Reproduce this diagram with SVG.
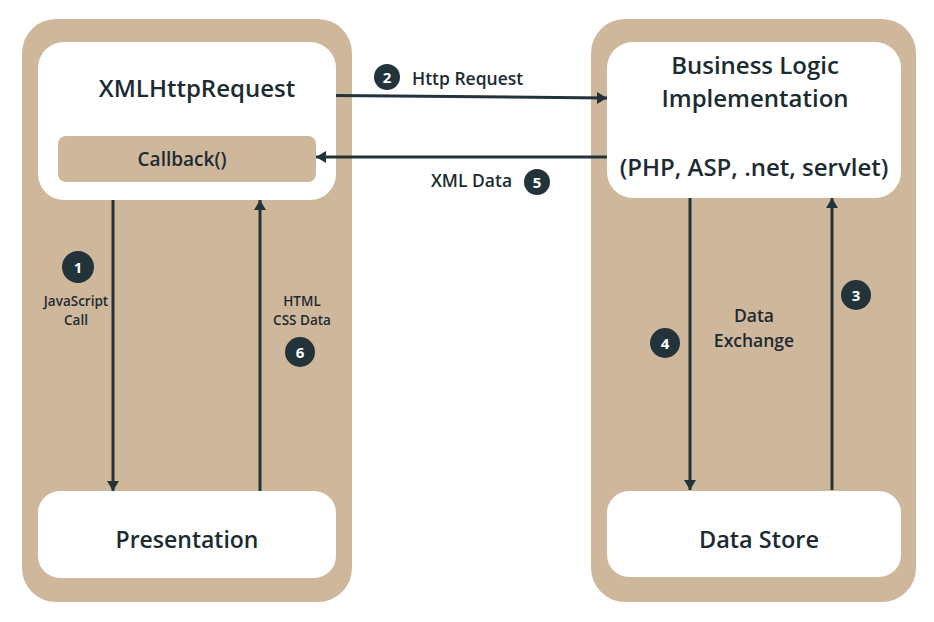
<svg xmlns="http://www.w3.org/2000/svg" width="934" height="622" viewBox="0 0 934 622">
<defs>
<marker id="ah" viewBox="0 0 10 12" refX="10" refY="6" markerWidth="10" markerHeight="12" markerUnits="userSpaceOnUse" orient="auto">
<path d="M0,0 L10,6 L0,12 Z" fill="#22343a"/>
</marker>
</defs>
<style>
.cont{fill:#cfb79c}
.box{fill:#ffffff}
.t{font-family:"Open Sans","Noto Sans",sans-serif;font-weight:600;fill:#1c2b31;text-anchor:middle}
.big{font-size:24px}
.med{font-size:17.5px}
.sm{font-size:13.5px}
.cn{fill:#22343a}
.ct{font-family:"Open Sans","Noto Sans",sans-serif;font-weight:700;fill:#ffffff;text-anchor:middle;font-size:15px}
.ln{stroke:#22343a;stroke-width:3;fill:none}
</style>
<rect width="934" height="622" fill="#ffffff"/>
<g id="left-container"><rect class="cont" x="22" y="19" width="330" height="583" rx="34"/></g>
<g id="right-container"><rect class="cont" x="591" y="19" width="325" height="583" rx="34"/></g>
<g id="xhr">
<rect class="box" x="38" y="42" width="298" height="158" rx="26"/>
<text class="t big" x="197" y="97">XMLHttpRequest</text>
</g>
<g id="callback">
<rect class="cont" x="58" y="136" width="258" height="46" rx="8"/>
<text class="t" x="182" y="166" font-size="19">Callback()</text>
</g>
<g id="business-logic">
<rect class="box" x="607" y="42" width="294" height="156" rx="26"/>
<text class="t big" x="755" y="74">Business Logic</text>
<text class="t big" x="755" y="107">Implementation</text>
<text class="t big" x="754" y="176">(PHP, ASP, .net, servlet)</text>
</g>
<g id="presentation">
<rect class="box" x="38" y="491" width="298" height="87" rx="22"/>
<text class="t" x="187" y="548" font-size="23">Presentation</text>
</g>
<g id="data-store">
<rect class="box" x="607" y="491" width="294" height="86" rx="22"/>
<text class="t" x="759" y="548" font-size="23.5">Data Store</text>
</g>
<g id="connectors">
<line class="ln" x1="336" y1="95.5" x2="607" y2="98" marker-end="url(#ah)"/>
<line class="ln" x1="607" y1="157" x2="316" y2="157" marker-end="url(#ah)"/>
<line class="ln" x1="113" y1="200" x2="113" y2="491" marker-end="url(#ah)"/>
<line class="ln" x1="260" y1="491" x2="260" y2="200" marker-end="url(#ah)"/>
<line class="ln" x1="690" y1="198" x2="690" y2="490" marker-end="url(#ah)"/>
<line class="ln" x1="832" y1="490" x2="832" y2="198" marker-end="url(#ah)"/>
</g>
<g id="labels">
<circle class="cn" cx="387" cy="77" r="13"/><text class="ct" x="387" y="82.5">2</text>
<text class="t med" x="412" y="85" style="text-anchor:start">Http Request</text>
<text class="t med" x="471.5" y="187">XML Data</text>
<circle class="cn" cx="537" cy="182" r="13"/><text class="ct" x="537" y="187.5">5</text>
<circle class="cn" cx="78" cy="267" r="16"/><text class="ct" x="78" y="272.5">1</text>
<text class="t sm" x="76" y="306">JavaScript</text>
<text class="t sm" x="76" y="324.5">Call</text>
<text class="t sm" x="302" y="306">HTML</text>
<text class="t sm" x="302" y="324.5">CSS Data</text>
<circle class="cn" cx="300" cy="352" r="15"/><text class="ct" x="300" y="357.5">6</text>
<circle class="cn" cx="856" cy="295" r="15"/><text class="ct" x="856" y="300.5">3</text>
<circle class="cn" cx="665" cy="343" r="15"/><text class="ct" x="665" y="348.5">4</text>
<text class="t med" x="754" y="322">Data</text>
<text class="t med" x="754" y="347">Exchange</text>
</g>
</svg>
